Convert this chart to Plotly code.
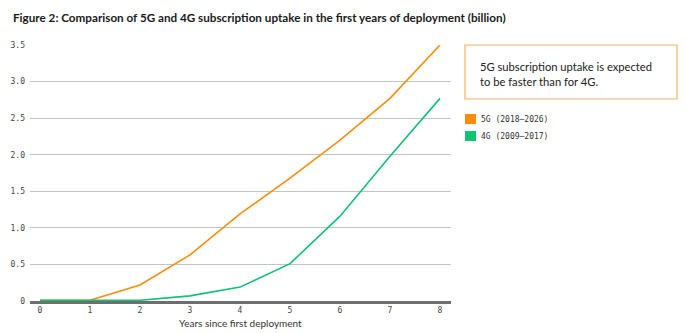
import plotly.graph_objects as go

# Years since first deployment
years = [0, 1, 2, 3, 4, 5, 6, 7, 8]
# Subscriptions (billion)
subs_5g = [0.01, 0.01, 0.22, 0.63, 1.19, 1.68, 2.20, 2.77, 3.50]
subs_4g = [0.01, 0.01, 0.01, 0.07, 0.19, 0.51, 1.16, 1.98, 2.77]

series_names = ["5G (2018\u20132026)", "4G (2009\u20132017)"]
series_colors = ["#FF8C0A", "#0FC373"]

y_ticks = [0, 0.5, 1.0, 1.5, 2.0, 2.5, 3.0, 3.5]
y_tick_text = ["0", "0.5", "1.0", "1.5", "2.0", "2.5", "3.0", "3.5"]

title_text = "Figure 2: Comparison of 5G and 4G subscription uptake in the first years of deployment (billion)"
note_text = "5G subscription uptake is expected<br>to be faster than for 4G."

mono = "DejaVu Sans Mono"
sans = "Lato"

# plot area in pixels
L, T, B, W = 30, 45, 32, 421
H = 333 - T - B


def px_x(px):
    return (px - L) / W


def px_y(py):
    return (333 - B - py) / H


fig = go.Figure()

for vals, name, color in zip([subs_5g, subs_4g], series_names, series_colors):
    fig.add_trace(go.Scatter(
        x=years, y=vals, mode="lines", name=name,
        line=dict(color=color, width=1.6),
        showlegend=False, cliponaxis=False, hoverinfo="skip",
    ))

fig.update_layout(
    width=694, height=333,
    margin=dict(l=L, r=694 - L - W, t=T, b=B),
    paper_bgcolor="white", plot_bgcolor="white",
    showlegend=False,
    xaxis=dict(
        range=[-0.2, 8.22], tickvals=years, ticktext=[str(v) for v in years],
        showgrid=False, zeroline=False, automargin=False,
        showline=True, linecolor="#6e6e6e", linewidth=2.5,
        tickfont=dict(family=mono, size=8, color="#444"),
        fixedrange=True,
    ),
    yaxis=dict(
        range=[0, 3.5], tickvals=y_ticks, ticktext=y_tick_text,
        showgrid=True, gridcolor="#c4c4c4", gridwidth=1.2,
        zeroline=False, showline=False, automargin=False,
        tickfont=dict(family=mono, size=8, color="#444"),
        ticklabelstandoff=4,
        fixedrange=True,
    ),
)

# x-axis title
fig.add_annotation(
    xref="paper", yref="paper", x=0.5, y=px_y(323),
    xanchor="center", yanchor="middle",
    text="Years since first deployment", showarrow=False,
    font=dict(family=sans, size=10, color="#333"),
)

# figure title
fig.add_annotation(
    xref="paper", yref="paper", x=px_x(11), y=px_y(17),
    xanchor="left", yanchor="middle",
    text="<b>" + title_text + "</b>", showarrow=False,
    font=dict(family=sans, size=11.7, color="#1a1a1a"),
)

# highlighted note box
fig.add_shape(
    type="rect", xref="paper", yref="paper",
    x0=px_x(465), x1=px_x(677), y0=px_y(99), y1=px_y(45),
    line=dict(color="#F8B060", width=1.2), fillcolor="white",
)
fig.add_annotation(
    xref="paper", yref="paper", x=px_x(478), y=px_y(74),
    xanchor="left", yanchor="middle", align="left",
    text=note_text, showarrow=False,
    font=dict(family=sans, size=11.2, color="#222"),
)

# legend swatches and labels
for i, (name, color) in enumerate(zip(series_names, series_colors)):
    cy = 119 + 17 * i
    fig.add_shape(
        type="rect", xref="paper", yref="paper",
        x0=px_x(465), x1=px_x(476), y0=px_y(cy + 5), y1=px_y(cy - 5),
        line=dict(width=0), fillcolor=color,
    )
    fig.add_annotation(
        xref="paper", yref="paper", x=px_x(479), y=px_y(cy),
        xanchor="left", yanchor="middle",
        text=name, showarrow=False,
        font=dict(family=mono, size=8, color="#333"),
    )

fig.write_html("out.html")
